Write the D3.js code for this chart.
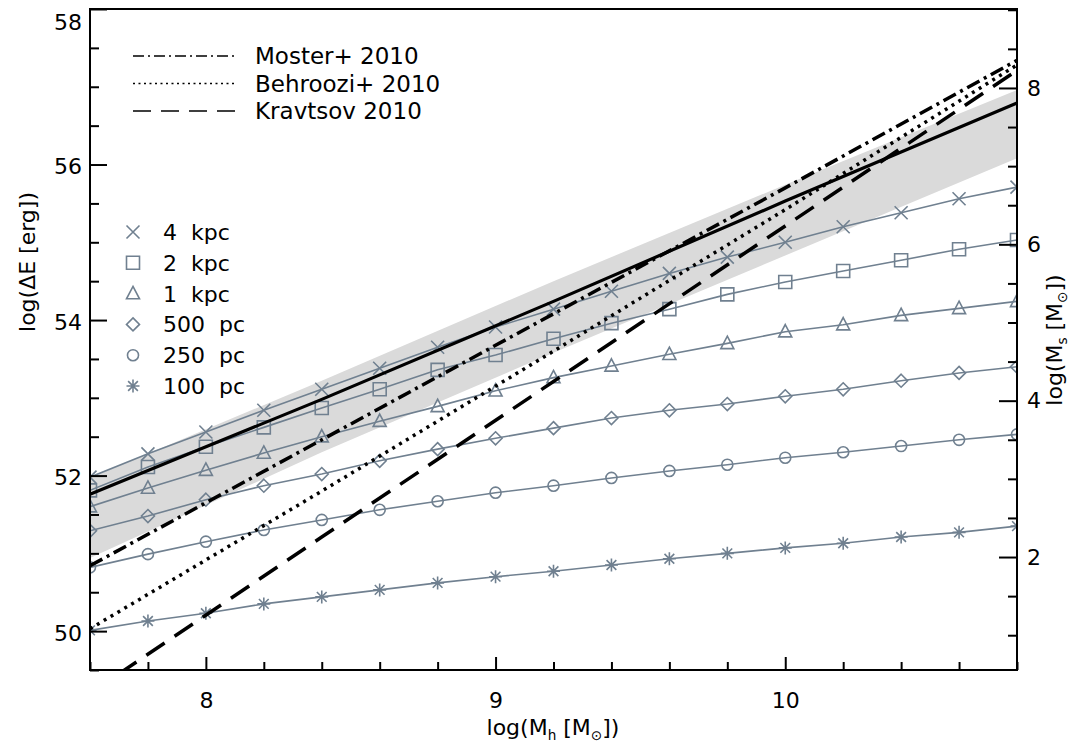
<!DOCTYPE html>
<html>
<head>
<meta charset="utf-8">
<script src="https://cdn.jsdelivr.net/npm/d3@7"></script>
<style>
  body { margin: 0; background: #fff; }
  svg { display: block; font-family: "DejaVu Sans", sans-serif; }
</style>
</head>
<body>
<div id="chart"></div>
<script>
// halo mass grid, log(Mh)
const mh = [7.6, 7.8, 8.0, 8.2, 8.4, 8.6, 8.8, 9.0, 9.2, 9.4, 9.6, 9.8, 10.0, 10.2, 10.4, 10.6, 10.8]

// log(dE) for each radius
const e4kpc   = [51.98, 52.28, 52.56, 52.84, 53.11, 53.38, 53.65, 53.91, 54.14, 54.37, 54.60, 54.81, 55.00, 55.20, 55.38, 55.56, 55.71]
const e2kpc   = [51.81, 52.11, 52.37, 52.62, 52.87, 53.11, 53.36, 53.55, 53.76, 53.96, 54.14, 54.33, 54.49, 54.63, 54.77, 54.91, 55.03]
const e1kpc   = [51.60, 51.84, 52.07, 52.29, 52.50, 52.70, 52.89, 53.09, 53.26, 53.41, 53.56, 53.70, 53.85, 53.94, 54.06, 54.15, 54.24]
const e500pc  = [51.29, 51.48, 51.69, 51.87, 52.02, 52.19, 52.34, 52.48, 52.61, 52.74, 52.84, 52.92, 53.02, 53.11, 53.22, 53.32, 53.40]
const e250pc  = [50.82, 50.99, 51.15, 51.30, 51.43, 51.56, 51.67, 51.78, 51.87, 51.97, 52.06, 52.14, 52.23, 52.30, 52.38, 52.46, 52.53]
const e100pc  = [50.01, 50.13, 50.23, 50.35, 50.44, 50.53, 50.62, 50.70, 50.77, 50.85, 50.93, 51.00, 51.07, 51.13, 51.21, 51.27, 51.35]

const radii = ["4 kpc", "2 kpc", "1 kpc", "500 pc", "250 pc", "100 pc"]
const symbols = ["x", "square", "triangle", "diamond", "circle", "asterisk"]

// stellar mass relations, on the log(dE) axis
const relX = [7.6, 8.4, 9.2, 10.0, 10.8]
const solidE = [51.76, 52.98, 54.24, 55.53, 56.79]
const bandHi = [51.97, 53.22, 54.50, 55.74, 56.96]
const bandLo = [50.94, 52.30, 53.58, 54.83, 56.08]
const mosterE = [50.84, 52.46, 54.08, 55.70, 57.34]
const behrooziE = [50.03, 51.80, 53.60, 55.42, 57.28]
const kravtsovE = [49.20, 51.21, 53.21, 55.21, 57.21]

const relNames = ["Moster+ 2010", "Behroozi+ 2010", "Kravtsov 2010"]

const xMajor = [8, 9, 10]
const yMajor = [50, 52, 54, 56, 58]
const y2Major = [2, 4, 6, 8]

const W = 1071, H = 744
const grey = "#708090"

const x = d3.scaleLinear().domain([7.6, 10.8]).range([90, 1017])
const y = d3.scaleLinear().domain([49.5, 58]).range([670, 9])
const y2 = d3.scaleLinear().domain([0.555, 9.01]).range([670, 9])

const svg = d3.select("#chart").append("svg")
    .attr("width", W)
    .attr("height", H)

svg.append("clipPath").attr("id", "clip")
  .append("rect")
    .attr("x", x.range()[0]).attr("y", y.range()[1])
    .attr("width", x.range()[1] - x.range()[0])
    .attr("height", y.range()[0] - y.range()[1])

const plot = svg.append("g").attr("clip-path", "url(#clip)")

// grey band
const band = relX.map((d, i) => ({x: d, lo: bandLo[i], hi: bandHi[i]}))
plot.append("path")
    .datum(band)
    .attr("fill", "#dadada")
    .attr("d", d3.area().x(d => x(d.x)).y0(d => y(d.lo)).y1(d => y(d.hi)))

const line = d3.line().x(d => x(d[0])).y(d => y(d[1]))

// marker shapes
function marker(type, s) {
  switch (type) {
    case "x": return `M${-s},${-s}L${s},${s}M${-s},${s}L${s},${-s}`
    case "square": return `M${-s},${-s}H${s}V${s}H${-s}Z`
    case "triangle": return `M0,${-s * 1.1}L${s},${s * 0.8}L${-s},${s * 0.8}Z`
    case "diamond": return `M0,${-s}L${s},0L0,${s}L${-s},0Z`
    case "circle": return d3.arc()({innerRadius: 0, outerRadius: s * 0.85, startAngle: 0, endAngle: 2 * Math.PI})
    case "asterisk": {
      const t = s * 0.75
      return `M0,${-s}V${s}M${-s},0H${s}M${-t},${-t}L${t},${t}M${-t},${t}L${t},${-t}`
    }
  }
}

const series = [e4kpc, e2kpc, e1kpc, e500pc, e250pc, e100pc]
const gs = plot.append("g")
series.forEach((vals, k) => {
  const pts = mh.map((m, i) => [m, vals[i]])
  gs.append("path")
      .attr("d", line(pts))
      .attr("fill", "none")
      .attr("stroke", grey)
      .attr("stroke-width", 1.6)
  gs.selectAll(null)
    .data(pts)
    .join("path")
      .attr("transform", d => `translate(${x(d[0])},${y(d[1])})`)
      .attr("d", marker(symbols[k], 6.5))
      .attr("fill", "none")
      .attr("stroke", grey)
      .attr("stroke-width", 1.6)
})

// relations
const dashes = ["14,5,3,5", "3,5", "22,12"]
const rels = [mosterE, behrooziE, kravtsovE]
rels.forEach((vals, k) => {
  plot.append("path")
      .attr("d", line(relX.map((m, i) => [m, vals[i]])))
      .attr("fill", "none")
      .attr("stroke", "#000")
      .attr("stroke-width", 3.5)
      .attr("stroke-dasharray", dashes[k])
})
plot.append("path")
    .attr("d", line(relX.map((m, i) => [m, solidE[i]])))
    .attr("fill", "none")
    .attr("stroke", "#000")
    .attr("stroke-width", 3.2)

// axes
const fs = 22
const xMinor = d3.range(7.6, 10.81, 0.2).filter(v => Math.abs(v - Math.round(v)) > 0.01)
const yMinor = d3.range(49.5, 58.01, 0.5).filter(v => Math.abs(v / 2 - Math.round(v / 2)) > 0.01)
const y2Minor = d3.range(1, 9.01, 0.5).filter(v => Math.abs(v / 2 - Math.round(v / 2)) > 0.01)

function styleAxis(g) {
  g.select(".domain").remove()
  g.selectAll("line").attr("stroke", "#000").attr("stroke-width", 2)
  g.selectAll("text").attr("font-size", fs).attr("fill", "#000").attr("font-family", "DejaVu Sans")
}

svg.append("g")
    .attr("transform", `translate(0,${y.range()[0]})`)
    .call(d3.axisBottom(x).tickValues(xMajor).tickFormat(d3.format("d")).tickSize(-13).tickPadding(22))
    .call(styleAxis)
svg.append("g")
    .attr("transform", `translate(0,${y.range()[0]})`)
    .call(d3.axisBottom(x).tickValues(xMinor).tickFormat("").tickSize(-8))
    .call(styleAxis)

svg.append("g")
    .attr("transform", `translate(${x.range()[0]},0)`)
    .call(d3.axisLeft(y).tickValues(yMajor).tickFormat(d3.format("d")).tickSize(-17).tickPadding(8))
    .call(styleAxis)
    .call(g => g.selectAll("text").attr("dy", d => d === 58 ? "0.95em" : "0.42em"))
svg.append("g")
    .attr("transform", `translate(${x.range()[0]},0)`)
    .call(d3.axisLeft(y).tickValues(yMinor).tickFormat("").tickSize(-9))
    .call(styleAxis)

svg.append("g")
    .attr("transform", `translate(${x.range()[1]},0)`)
    .call(d3.axisRight(y2).tickValues(y2Major).tickFormat(d3.format("d")).tickSize(-18).tickPadding(10))
    .call(styleAxis)
svg.append("g")
    .attr("transform", `translate(${x.range()[1]},0)`)
    .call(d3.axisRight(y2).tickValues(y2Minor).tickFormat("").tickSize(-9))
    .call(styleAxis)

// frame
svg.append("rect")
    .attr("x", x.range()[0]).attr("y", y.range()[1])
    .attr("width", x.range()[1] - x.range()[0])
    .attr("height", y.range()[0] - y.range()[1])
    .attr("fill", "none")
    .attr("stroke", "#000")
    .attr("stroke-width", 2)

// axis titles
function title(t, parts) {
  parts.forEach(p => {
    const s = t.append("tspan").text(p[0])
    if (p[1] === "sub") s.attr("font-size", fs * 0.62).attr("dy", 5)
    if (p[1] === "up") s.attr("dy", -5)
  })
}
const xt = svg.append("text")
    .attr("x", 553).attr("y", 735)
    .attr("text-anchor", "middle")
    .attr("font-size", 22)
title(xt, [["log(M"], ["h", "sub"], [" [M", "up"], ["⊙", "sub"], ["])", "up"]])

const yt = svg.append("text")
    .attr("transform", "translate(35,262) rotate(-90)")
    .attr("text-anchor", "middle")
    .attr("font-size", 22)
title(yt, [["log(ΔE [erg])"]])

const y2t = svg.append("text")
    .attr("transform", "translate(1062,340) rotate(-90)")
    .attr("text-anchor", "middle")
    .attr("font-size", 22)
title(y2t, [["log(M"], ["s", "sub"], [" [M", "up"], ["⊙", "sub"], ["])", "up"]])

// legend for relations
const legDash = ["11,4,2,4", "2,3.5", "18,10"]
relNames.forEach((n, i) => {
  const yy = 56 + i * 27.5
  svg.append("line")
      .attr("x1", 133).attr("x2", 235).attr("y1", yy).attr("y2", yy)
      .attr("stroke", "#000").attr("stroke-width", 1.6)
      .attr("stroke-dasharray", legDash[i])
  svg.append("text")
      .attr("x", 255).attr("y", yy).attr("dy", "0.36em")
      .attr("font-size", 23)
      .text(n)
})

// legend for radii
radii.forEach((n, i) => {
  const yy = 232 + i * 30.8
  svg.append("path")
      .attr("transform", `translate(133,${yy})`)
      .attr("d", marker(symbols[i], 6.5))
      .attr("fill", "none")
      .attr("stroke", grey)
      .attr("stroke-width", 1.6)
  svg.append("text")
      .attr("x", 163).attr("y", yy).attr("dy", "0.36em")
      .attr("font-size", 22)
      .style("word-spacing", "7px")
      .text(n)
})
</script>
</body>
</html>
